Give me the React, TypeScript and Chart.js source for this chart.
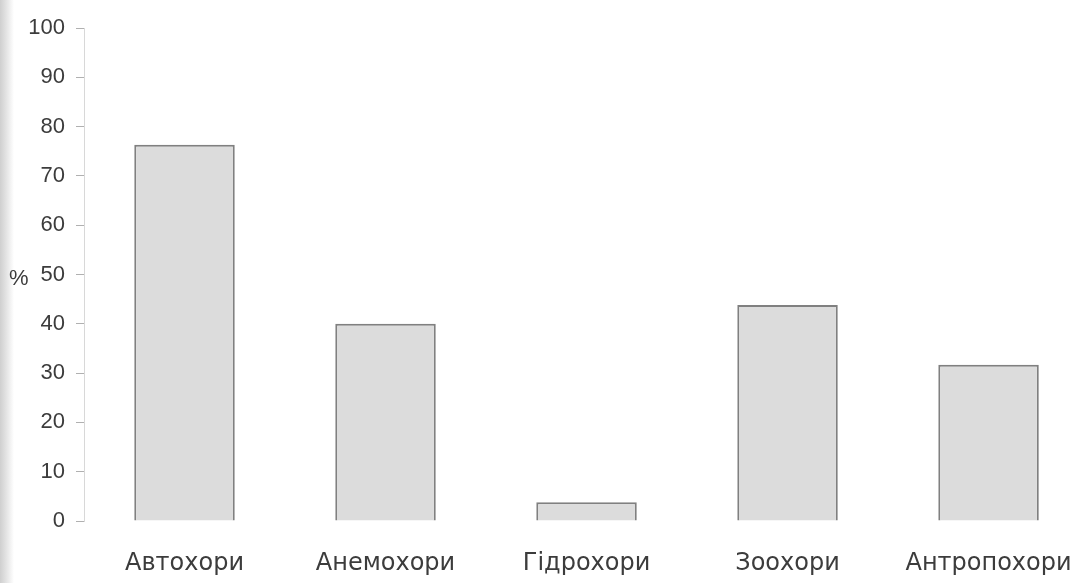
import React, { useEffect, useRef } from "react";
import { Chart, registerables } from "chart.js";

Chart.register(...registerables);

const categories = ["Автохори", "Анемохори", "Гідрохори", "Зоохори", "Антропохори"];
const values = [76.3, 40, 3.8, 43.8, 31.7];
const yTicks = [0, 10, 20, 30, 40, 50, 60, 70, 80, 90, 100];
const yUnit = "%";

const FONT = "'Liberation Sans', Arial, Helvetica, sans-serif";
const XFONT = "'DejaVu Sans', 'Liberation Sans', Arial, sans-serif";
const TEXT = "#3c3c3c";

const percentPlugin = {
  id: "percentLabel",
  afterDraw(chart: any) {
    const y = chart.scales.y;
    const ctx = chart.ctx;
    ctx.save();
    ctx.font = `22px ${FONT}`;
    ctx.fillStyle = TEXT;
    ctx.textAlign = "left";
    ctx.textBaseline = "middle";
    ctx.fillText(yUnit, 9, y.getPixelForValue(50) + 4);
    ctx.restore();
  },
};

export default function App() {
  const ref = useRef<HTMLCanvasElement | null>(null);
  useEffect(() => {
    if (!ref.current) return;
    const chart = new Chart(ref.current, {
      type: "bar",
      data: {
        datasets: [
          {
            data: values.map((v, i) => ({ x: i, y: v })),
            backgroundColor: "#dcdcdc",
            borderColor: "#808080",
            borderWidth: 2,
            barPercentage: 0.5,
            categoryPercentage: 1,
          },
        ],
      },
      options: {
        animation: false,
        responsive: false,
        maintainAspectRatio: false,
        layout: { padding: { top: 28, right: 0, left: 0, bottom: 0 } },
        plugins: { legend: { display: false }, tooltip: { enabled: false } },
        scales: {
          x: {
            type: "linear",
            offset: false,
            min: -0.5,
            max: 4.455,
            afterBuildTicks: (s: any) => {
              s.ticks = categories.map((_, i) => ({ value: i }));
            },
            afterFit: (s: any) => {
              s.height = 62;
              s.paddingLeft = 0;
              s.paddingRight = 0;
            },
            ticks: {
              callback: (v: any) => categories[v as number] ?? "",
              font: { family: XFONT, size: 24 },
              color: TEXT,
              padding: 28,
              maxRotation: 0,
              autoSkip: false,
            },
            grid: { display: false, drawTicks: false, offset: false },
            border: { display: false },
          },
          y: {
            min: 0,
            max: 100,
            afterBuildTicks: (s: any) => {
              s.ticks = yTicks.map((v) => ({ value: v }));
            },
            afterFit: (s: any) => {
              s.width = 84;
            },
            ticks: {
              font: { family: FONT, size: 22 },
              color: TEXT,
              padding: 11,
            },
            grid: {
              drawOnChartArea: false,
              drawTicks: true,
              tickLength: 8,
              color: "#b0b0b0",
            },
            border: { display: true, color: "#d8d8d8", width: 1 },
          },
        },
      },
      plugins: [percentPlugin],
    });
    return () => chart.destroy();
  }, []);
  return (
    <div
      style={{
        position: "absolute",
        left: 0,
        top: 0,
        width: 1080,
        height: 583,
        background: "linear-gradient(to right, #cfcfcf 0px, #e6e6e6 7px, #ffffff 14px)",
      }}
    >
      <canvas ref={ref} width={1080} height={583} style={{ width: 1080, height: 583, display: "block" }} />
    </div>
  );
}
